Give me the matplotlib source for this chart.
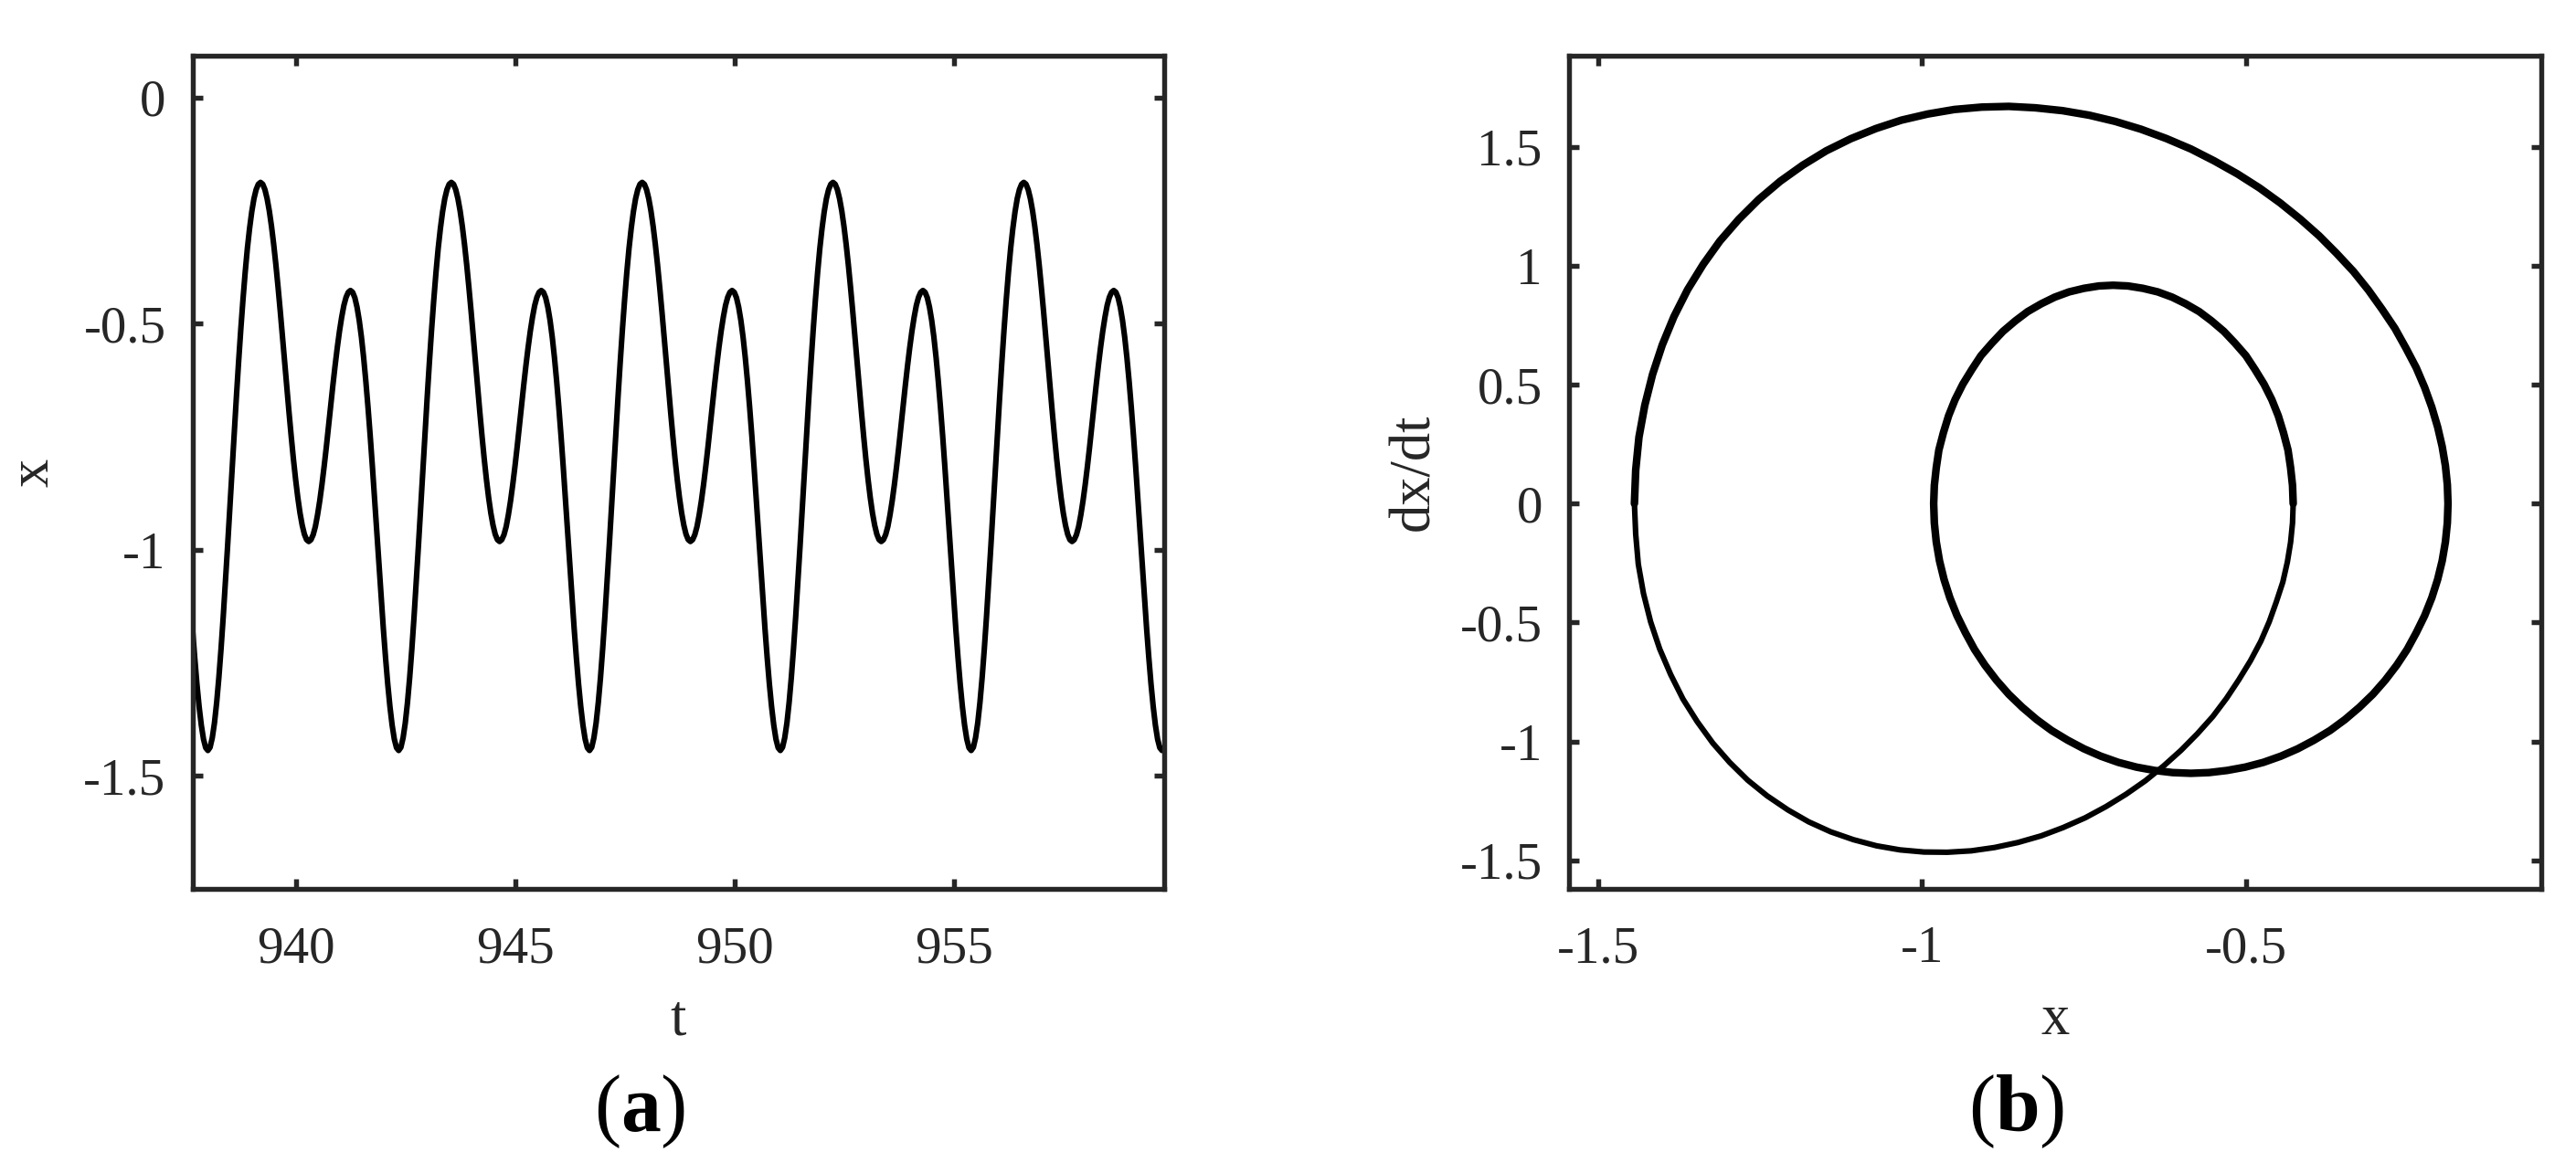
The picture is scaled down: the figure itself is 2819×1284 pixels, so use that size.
import numpy as np
import matplotlib
matplotlib.use("Agg")
import matplotlib.pyplot as plt

plt.rcParams['font.family'] = ['Liberation Serif', 'DejaVu Serif']
plt.rcParams['mathtext.fontset'] = 'custom'
plt.rcParams['mathtext.rm'] = 'Liberation Serif'
plt.rcParams['mathtext.bf'] = 'Liberation Serif:bold'
plt.rcParams['axes.unicode_minus'] = False

# ---------------- data ----------------
# panel (a): x(t) sampled every 0.05 time units starting at t = 937.65
T_START = 937.65
T_STEP = 0.05
x_series = [
    -1.175, -1.239, -1.297, -1.347, -1.388, -1.419, -1.438, -1.444, -1.437, -1.416, -1.383, -1.338, -1.283, -1.219, -1.148, -1.071,
    -0.991, -0.908, -0.825, -0.742, -0.662, -0.585, -0.513, -0.447, -0.387, -0.334, -0.290, -0.253, -0.224, -0.204, -0.192,
    # 939.20
    -0.188, -0.192, -0.204, -0.224, -0.251, -0.285, -0.325, -0.370, -0.420, -0.473, -0.529, -0.585, -0.641, -0.697, -0.750, -0.800,
    -0.845, -0.885, -0.919, -0.946, -0.966, -0.978, -0.982, -0.978, -0.967, -0.949, -0.923, -0.892, -0.856, -0.816, -0.773, -0.727,
    -0.682, -0.636, -0.593, -0.553, -0.517, -0.486, -0.460, -0.442, -0.431, -0.427, -0.431, -0.443, -0.464, -0.493, -0.530, -0.575,
    -0.627, -0.685, -0.748, -0.816, -0.888, -0.961, -1.034, -1.106, -1.175, -1.239, -1.297, -1.347, -1.388, -1.419, -1.438, -1.444,
    -1.437, -1.416, -1.383, -1.338, -1.283, -1.219, -1.148, -1.071, -0.991, -0.908, -0.825, -0.742, -0.662, -0.585, -0.513, -0.447,
    -0.387, -0.334, -0.290, -0.253, -0.224, -0.204, -0.192,
    # 943.55
    -0.188, -0.192, -0.204, -0.224, -0.251, -0.285, -0.325, -0.370, -0.420, -0.473, -0.529, -0.585, -0.641, -0.697, -0.750, -0.800,
    -0.845, -0.885, -0.919, -0.946, -0.966, -0.978, -0.982, -0.978, -0.967, -0.949, -0.923, -0.892, -0.856, -0.816, -0.773, -0.727,
    -0.682, -0.636, -0.593, -0.553, -0.517, -0.486, -0.460, -0.442, -0.431, -0.427, -0.431, -0.443, -0.464, -0.493, -0.530, -0.575,
    -0.627, -0.685, -0.748, -0.816, -0.888, -0.961, -1.034, -1.106, -1.175, -1.239, -1.297, -1.347, -1.388, -1.419, -1.438, -1.444,
    -1.437, -1.416, -1.383, -1.338, -1.283, -1.219, -1.148, -1.071, -0.991, -0.908, -0.825, -0.742, -0.662, -0.585, -0.513, -0.447,
    -0.387, -0.334, -0.290, -0.253, -0.224, -0.204, -0.192,
    # 947.90
    -0.188, -0.192, -0.204, -0.224, -0.251, -0.285, -0.325, -0.370, -0.420, -0.473, -0.529, -0.585, -0.641, -0.697, -0.750, -0.800,
    -0.845, -0.885, -0.919, -0.946, -0.966, -0.978, -0.982, -0.978, -0.967, -0.949, -0.923, -0.892, -0.856, -0.816, -0.773, -0.727,
    -0.682, -0.636, -0.593, -0.553, -0.517, -0.486, -0.460, -0.442, -0.431, -0.427, -0.431, -0.443, -0.464, -0.493, -0.530, -0.575,
    -0.627, -0.685, -0.748, -0.816, -0.888, -0.961, -1.034, -1.106, -1.175, -1.239, -1.297, -1.347, -1.388, -1.419, -1.438, -1.444,
    -1.437, -1.416, -1.383, -1.338, -1.283, -1.219, -1.148, -1.071, -0.991, -0.908, -0.825, -0.742, -0.662, -0.585, -0.513, -0.447,
    -0.387, -0.334, -0.290, -0.253, -0.224, -0.204, -0.192,
    # 952.25
    -0.188, -0.192, -0.204, -0.224, -0.251, -0.285, -0.325, -0.370, -0.420, -0.473, -0.529, -0.585, -0.641, -0.697, -0.750, -0.800,
    -0.845, -0.885, -0.919, -0.946, -0.966, -0.978, -0.982, -0.978, -0.967, -0.949, -0.923, -0.892, -0.856, -0.816, -0.773, -0.727,
    -0.682, -0.636, -0.593, -0.553, -0.517, -0.486, -0.460, -0.442, -0.431, -0.427, -0.431, -0.443, -0.464, -0.493, -0.530, -0.575,
    -0.627, -0.685, -0.748, -0.816, -0.888, -0.961, -1.034, -1.106, -1.175, -1.239, -1.297, -1.347, -1.388, -1.419, -1.438, -1.444,
    -1.437, -1.416, -1.383, -1.338, -1.283, -1.219, -1.148, -1.071, -0.991, -0.908, -0.825, -0.742, -0.662, -0.585, -0.513, -0.447,
    -0.387, -0.334, -0.290, -0.253, -0.224, -0.204, -0.192,
    # 956.60
    -0.188, -0.192, -0.204, -0.224, -0.251, -0.285, -0.325, -0.370, -0.420, -0.473, -0.529, -0.585, -0.641, -0.697, -0.750, -0.800,
    -0.845, -0.885, -0.919, -0.946, -0.966, -0.978, -0.982, -0.978, -0.967, -0.949, -0.923, -0.892, -0.856, -0.816, -0.773, -0.727,
    -0.682, -0.636, -0.593, -0.553, -0.517, -0.486, -0.460, -0.442, -0.431, -0.427, -0.431, -0.443, -0.464, -0.493, -0.530, -0.575,
    -0.627, -0.685, -0.748, -0.816, -0.888, -0.961, -1.034, -1.106, -1.175, -1.239, -1.297, -1.347, -1.388, -1.419, -1.438, -1.444,
    -1.437,
]

# panel (b): one period of the orbit in the phase plane (x, dx/dt)
phase_x = [
    -0.188, -0.189, -0.192, -0.197, -0.204, -0.213, -0.224, -0.237, -0.251, -0.267, -0.285, -0.304, -0.325, -0.347, -0.370, -0.395,
    -0.420, -0.446, -0.473, -0.501, -0.529, -0.557, -0.585, -0.613, -0.641, -0.669, -0.697, -0.724, -0.750, -0.775, -0.800, -0.823,
    -0.845, -0.866, -0.885, -0.903, -0.919, -0.933, -0.946, -0.957, -0.966, -0.973, -0.978, -0.981,
    -0.982, -0.981, -0.978, -0.974, -0.967, -0.959, -0.949, -0.937, -0.923, -0.909, -0.892, -0.875, -0.856, -0.837, -0.816, -0.795,
    -0.773, -0.750, -0.727, -0.705, -0.682, -0.659, -0.636, -0.614, -0.593, -0.572, -0.553, -0.534, -0.517, -0.500, -0.486, -0.472,
    -0.460, -0.450, -0.442, -0.435, -0.431, -0.428,
    -0.427, -0.428, -0.431, -0.436, -0.443, -0.453, -0.464, -0.477, -0.493, -0.511, -0.530, -0.551, -0.575, -0.600, -0.627, -0.655,
    -0.685, -0.716, -0.748, -0.782, -0.816, -0.852, -0.888, -0.924, -0.961, -0.997, -1.034, -1.070, -1.106, -1.141, -1.175, -1.207,
    -1.239, -1.269, -1.297, -1.323, -1.347, -1.369, -1.388, -1.405, -1.419, -1.430, -1.438, -1.442,
    -1.444, -1.442, -1.437, -1.428, -1.416, -1.401, -1.383, -1.362, -1.338, -1.312, -1.283, -1.252, -1.219, -1.184, -1.148, -1.110,
    -1.071, -1.032, -0.991, -0.950, -0.908, -0.866, -0.825, -0.783, -0.742, -0.702, -0.662, -0.623, -0.585, -0.549, -0.513, -0.479,
    -0.447, -0.416, -0.387, -0.360, -0.334, -0.311, -0.290, -0.270, -0.253, -0.237, -0.224, -0.213, -0.204, -0.197, -0.192, -0.189,
]
phase_v = [
    0.000, -0.081, -0.161, -0.241, -0.319, -0.396, -0.471, -0.543, -0.613, -0.679, -0.743, -0.802, -0.857, -0.908, -0.954, -0.995,
    -1.031, -1.062, -1.088, -1.108, -1.122, -1.131, -1.134, -1.131, -1.122, -1.108, -1.088, -1.062, -1.031, -0.995, -0.954, -0.908,
    -0.857, -0.802, -0.743, -0.679, -0.613, -0.543, -0.471, -0.396, -0.319, -0.241, -0.161, -0.081,
    0.000, 0.076, 0.151, 0.225, 0.298, 0.369, 0.437, 0.502, 0.564, 0.622, 0.675, 0.724, 0.768, 0.807, 0.840, 0.868,
    0.890, 0.905, 0.915, 0.918, 0.915, 0.905, 0.890, 0.868, 0.840, 0.807, 0.768, 0.724, 0.675, 0.622, 0.564, 0.502,
    0.437, 0.369, 0.298, 0.225, 0.151, 0.076,
    0.000, -0.081, -0.163, -0.246, -0.330, -0.413, -0.497, -0.579, -0.661, -0.741, -0.819, -0.895, -0.968, -1.037, -1.103, -1.165,
    -1.222, -1.274, -1.321, -1.362, -1.397, -1.425, -1.446, -1.460, -1.466, -1.465, -1.456, -1.439, -1.413, -1.380, -1.338, -1.288,
    -1.229, -1.163, -1.088, -1.007, -0.917, -0.822, -0.719, -0.611, -0.497, -0.378, -0.255, -0.129,
    0.000, 0.141, 0.279, 0.413, 0.543, 0.667, 0.786, 0.899, 1.005, 1.104, 1.195, 1.279, 1.355, 1.423, 1.483, 1.534,
    1.577, 1.612, 1.638, 1.657, 1.667, 1.670, 1.664, 1.652, 1.633, 1.607, 1.574, 1.535, 1.491, 1.441, 1.386, 1.327,
    1.264, 1.196, 1.126, 1.052, 0.976, 0.898, 0.818, 0.737, 0.654, 0.571, 0.488, 0.405, 0.322, 0.240, 0.159, 0.079,
]
# sample range of the thinner stroke seen in (b): falling branch from the small peak to the deep trough
THIN_PART = (82, 127)

a_xticks = [940, 945, 950, 955]
a_xticklabels = ['940', '945', '950', '955']
a_yticks = [0, -0.5, -1, -1.5]
a_yticklabels = ['0', '-0.5', '-1', '-1.5']
b_xticks = [-1.5, -1, -0.5]
b_xticklabels = ['-1.5', '-1', '-0.5']
b_yticks = [1.5, 1, 0.5, 0, -0.5, -1, -1.5]
b_yticklabels = ['1.5', '1', '0.5', '0', '-0.5', '-1', '-1.5']

# ---------------- figure ----------------
W, H = 2819, 1284
DPI = 100
fig = plt.figure(figsize=(W / DPI, H / DPI), dpi=DPI)
AX_COL = '#262626'

def px_axes(l, r, t, b):
    return [l / W, 1 - b / H, (r - l) / W, (b - t) / H]

ax1 = fig.add_axes(px_axes(210.7, 1274, 61, 973))
ax2 = fig.add_axes(px_axes(1717, 2781, 61, 973))

t = T_START + T_STEP * np.arange(len(x_series))
ax1.plot(t, x_series, color='black', lw=4.4, solid_joinstyle='round', solid_capstyle='round')

px = np.array(phase_x)
pv = np.array(phase_v)
n = len(px)
a, b = THIN_PART
thick = np.r_[b - 1:n, 0:a + 1]
thin = np.arange(a, b)
ax2.plot(px[thick], pv[thick], color='black', lw=6.0, solid_joinstyle='round', solid_capstyle='round')
ax2.plot(px[thin], pv[thin], color='black', lw=4.4, solid_joinstyle='round', solid_capstyle='round')

ax1.set_xlim(937.65, 959.8)
ax1.set_ylim(-1.75, 0.092)
ax2.set_xlim(-1.545, -0.044)
ax2.set_ylim(-1.62, 1.883)

ax1.set_xticks(a_xticks, a_xticklabels)
ax1.set_yticks(a_yticks, a_yticklabels)
ax2.set_xticks(b_xticks, b_xticklabels)
ax2.set_yticks(b_yticks, b_yticklabels)

for ax in (ax1, ax2):
    for s in ax.spines.values():
        s.set_linewidth(3.9)
        s.set_color(AX_COL)
    ax.tick_params(axis='both', which='both', direction='in', length=8, width=3.9,
                   color=AX_COL, labelcolor=AX_COL, labelsize=41,
                   top=True, right=True)
    ax.tick_params(axis='x', pad=29)
    ax.tick_params(axis='y', pad=21)

ax1.set_xlabel('t', fontsize=45, color=AX_COL)
ax1.set_ylabel('x', fontsize=45, color=AX_COL)
ax2.set_xlabel('x', fontsize=45, color=AX_COL)
ax2.set_ylabel('dx/dt', fontsize=45, color=AX_COL)
for ax in (ax1, ax2):
    ax.xaxis.set_label_coords(0.5, -0.1745)
    ax.xaxis.label.set_va('baseline')
ax1.yaxis.set_label_coords(-0.163, 0.5)
ax2.yaxis.set_label_coords(-0.159, 0.5)
for ax in (ax1, ax2):
    ax.yaxis.label.set_va('center')

fig.text(700 / W, 1 - 1238 / H, r'($\mathbf{a}$)', fontsize=63, ha='center', va='baseline', color='black')
fig.text(2207 / W, 1 - 1238 / H, r'($\mathbf{b}$)', fontsize=63, ha='center', va='baseline', color='black')

fig.savefig('out.png', dpi=DPI)
